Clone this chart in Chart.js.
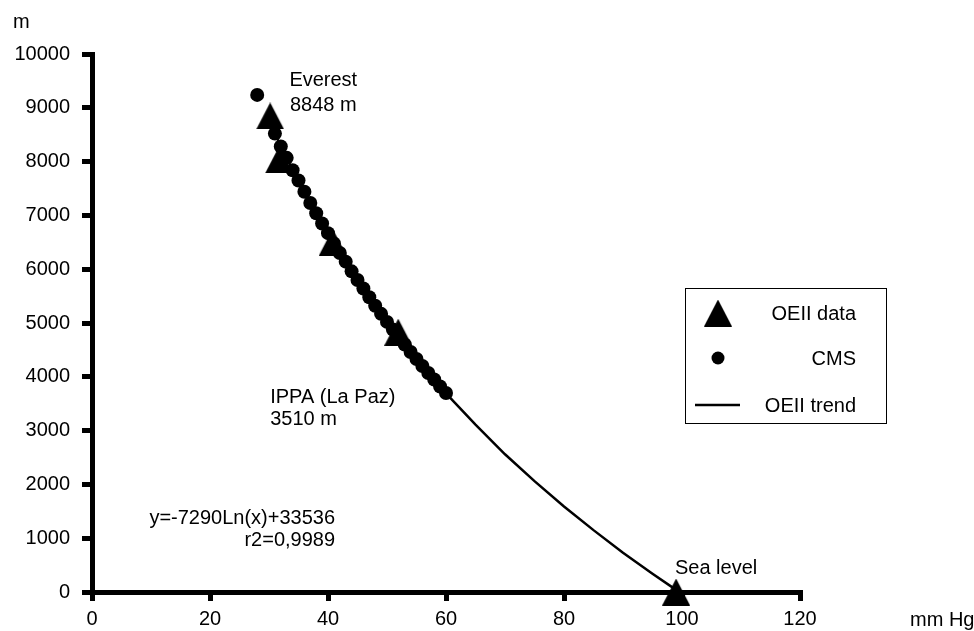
<!DOCTYPE html>
<html><head><meta charset="utf-8">
<script src="https://cdn.jsdelivr.net/npm/chart.js@4.4.1/dist/chart.umd.min.js"></script>
<style>html,body{margin:0;padding:0;background:#fff;} #wrap{width:974px;height:631px;position:relative;}</style>
</head><body><div id="wrap"><canvas id="c" width="974" height="631"></canvas></div>
<script>
// ---- data ----
const oeiiPressure = [30.2, 31.7, 40.8, 51.9, 99.0];
const oeiiAltitude = [8848, 8030, 6500, 4830, 0];

const cmsPressure = [28, 31, 32, 33, 34, 35, 36, 37, 38, 39, 40, 41, 42, 43, 44, 45, 46, 47, 48, 49, 50, 51, 52, 53, 54, 55, 56, 57, 58, 59, 60];
const cmsAltitude = [9240, 8520, 8280, 8070, 7840, 7650, 7440, 7230, 7040, 6850, 6670, 6480, 6300, 6140, 5960, 5800, 5640, 5480, 5320, 5170, 5020, 4880, 4730, 4600, 4460, 4330, 4200, 4070, 3950, 3820, 3700];

const trendPressure = [30, 35, 40, 45, 50, 55, 60, 65, 70, 75, 80, 85, 90, 95, 99];
const trendAltitude = [8740, 7620, 6640, 5780, 5020, 4320, 3690, 3110, 2560, 2060, 1590, 1150, 730, 340, 40];

const xTickValues = [0, 20, 40, 60, 80, 100, 120];
const yTickValues = [0, 1000, 2000, 3000, 4000, 5000, 6000, 7000, 8000, 9000, 10000];

const seriesNames = ['OEII data', 'CMS', 'OEII trend'];
const xUnit = 'mm Hg';
const yUnit = 'm';

// ---- styling ----
const FONT = '"Liberation Sans", Arial, sans-serif';
const FS = 20;
Chart.defaults.font.family = FONT;
Chart.defaults.font.size = FS;
Chart.defaults.color = '#000';

function makeTriangle(w, h) {
  const cv = document.createElement('canvas');
  cv.width = w; cv.height = h;
  const g = cv.getContext('2d');
  g.fillStyle = '#000';
  g.beginPath();
  g.moveTo(w / 2, 0);
  g.lineTo(w, h);
  g.lineTo(0, h);
  g.closePath();
  g.fill();
  return cv;
}
const triImg = makeTriangle(28, 27);

const toXY = (xs, ys) => xs.map((v, i) => ({ x: v, y: ys[i] }));

const annotations = [
  { text: 'Everest', x: 39.2, y: 9500, align: 'center' },
  { text: '8848 m', x: 39.2, y: 9040, align: 'center' },
  { text: 'IPPA (La Paz)', x: 30.2, y: 3620, align: 'left' },
  { text: '3510 m', x: 30.2, y: 3210, align: 'left' },
  { text: 'y=-7290Ln(x)+33536', x: 41.2, y: 1360, align: 'right' },
  { text: 'r2=0,9989', x: 41.2, y: 950, align: 'right' },
  { text: 'Sea level', x: 98.8, y: 440, align: 'left' }
];

const overlay = {
  id: 'overlay',
  afterDraw(chart) {
    const ctx = chart.ctx;
    const xs = chart.scales.x, ys = chart.scales.y;
    ctx.save();
    ctx.fillStyle = '#000';
    ctx.font = FS + 'px ' + FONT;
    ctx.textBaseline = 'middle';
    annotations.forEach(a => {
      ctx.textAlign = a.align;
      ctx.fillText(a.text, xs.getPixelForValue(a.x), ys.getPixelForValue(a.y));
    });
    // axis unit labels
    ctx.textAlign = 'left';
    ctx.fillText(yUnit, 13, 22);
    ctx.fillText(xUnit, 910, 620);

    // legend
    const L = 685, T = 288, R = 886, B = 423;
    ctx.strokeStyle = '#000';
    ctx.lineWidth = 1;
    ctx.strokeRect(L + 0.5, T + 0.5, R - L, B - T);
    const rows = [313, 358, 405];
    ctx.textAlign = 'right';
    // triangle
    ctx.drawImage(triImg, 718 - triImg.width / 2, rows[0] - triImg.height / 2);
    ctx.fillText(seriesNames[0], 856, rows[0] + 1);
    // dot
    ctx.beginPath();
    ctx.arc(718, rows[1], 6.5, 0, Math.PI * 2);
    ctx.fill();
    ctx.fillText(seriesNames[1], 856, rows[1] + 1);
    // line
    ctx.beginPath();
    ctx.lineWidth = 2.5;
    ctx.moveTo(695, rows[2]);
    ctx.lineTo(740, rows[2]);
    ctx.stroke();
    ctx.fillText(seriesNames[2], 856, rows[2] + 1);
    ctx.restore();
  }
};

new Chart(document.getElementById('c'), {
  type: 'scatter',
  data: {
    datasets: [
      {
        label: seriesNames[2],
        type: 'line',
        data: toXY(trendPressure, trendAltitude),
        borderColor: '#000',
        borderWidth: 2.5,
        pointRadius: 0,
        fill: false,
        tension: 0,
        clip: false,
        order: 3
      },
      {
        label: seriesNames[1],
        data: toXY(cmsPressure, cmsAltitude),
        pointStyle: 'circle',
        pointRadius: 7,
        backgroundColor: '#000',
        borderColor: '#000',
        borderWidth: 0,
        clip: false,
        order: 2
      },
      {
        label: seriesNames[0],
        data: toXY(oeiiPressure, oeiiAltitude),
        pointStyle: triImg,
        pointRadius: 14,
        backgroundColor: '#000',
        borderColor: '#000',
        clip: false,
        order: 1
      }
    ]
  },
  options: {
    responsive: false,
    animation: false,
    devicePixelRatio: 1,
    layout: { padding: { left: 0, top: 54, right: 174, bottom: 0 } },
    plugins: { legend: { display: false }, tooltip: { enabled: false } },
    scales: {
      x: {
        type: 'linear',
        min: 0, max: 120,
        afterBuildTicks: s => { s.ticks = xTickValues.map(v => ({ value: v })); },
        afterFit: s => { s.height = 39; },
        ticks: { callback: v => String(v), padding: 6, maxRotation: 0, autoSkip: false, color: '#000', font: { size: FS } },
        grid: { drawOnChartArea: false, drawTicks: true, tickLength: 9, color: '#000', lineWidth: 5 },
        border: { display: true, color: '#000', width: 5 }
      },
      y: {
        type: 'linear',
        min: 0, max: 10000,
        afterBuildTicks: s => { s.ticks = yTickValues.map(v => ({ value: v })); },
        afterFit: s => { s.width = 92; },
        ticks: { callback: v => String(v), padding: 12, autoSkip: false, color: '#000', font: { size: FS } },
        grid: { drawOnChartArea: false, drawTicks: true, tickLength: 10, color: '#000', lineWidth: 5 },
        border: { display: true, color: '#000', width: 5 }
      }
    }
  },
  plugins: [overlay]
});
</script>
</body></html>
